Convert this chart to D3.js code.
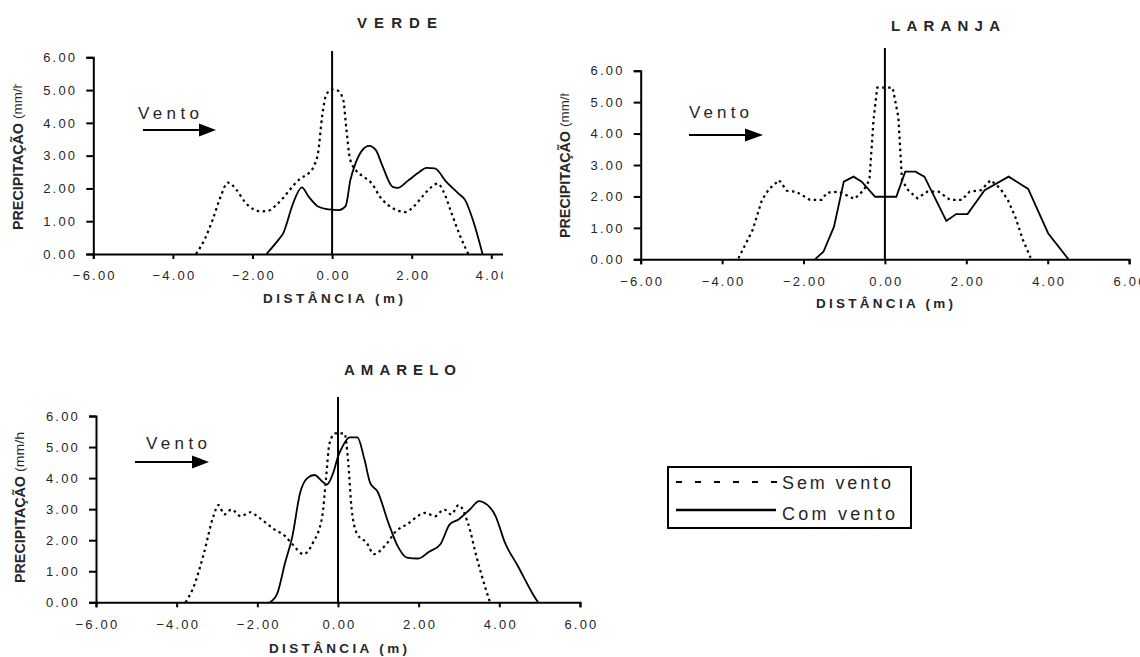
<!DOCTYPE html>
<html>
<head>
<meta charset="utf-8">
<title>Precipitação - sem vento / com vento</title>
<script src="https://cdn.jsdelivr.net/npm/d3@7"></script>
<style>
  body { margin: 0; background: #fff; }
  svg text { font-family: "Liberation Sans", Arial, sans-serif; fill: #262626; }
</style>
</head>
<body>
<svg id="chart" width="1140" height="657"></svg>
<script>
// tick values + labels
const xTicks = [-6, -4, -2, 0, 2, 4, 6];
const yTicks = [0, 1, 2, 3, 4, 5, 6];
const seriesNames = ["Sem vento", "Com vento"];
const xTitle = "DISTÂNCIA (m)";
const yTitle = "PRECIPITAÇÃO";
const yUnit = "(mm/h";

// VERDE  [distancia, precipitacao]
const verdeSem = [[-3.42,0],[-3.2,0.45],[-3.0,1.05],[-2.8,1.75],[-2.62,2.18],[-2.4,1.95],[-2.2,1.6],[-2.0,1.38],
  [-1.8,1.3],[-1.6,1.32],[-1.4,1.5],[-1.2,1.75],[-1.0,2.05],[-0.8,2.3],[-0.6,2.45],[-0.45,2.7],[-0.35,3.1],
  [-0.25,4.2],[-0.15,4.85],[0.0,5.02],[0.15,4.98],[0.28,4.7],[0.36,3.8],[0.45,2.9],[0.6,2.55],[0.8,2.35],
  [1.0,2.15],[1.2,1.75],[1.4,1.5],[1.6,1.35],[1.85,1.28],[2.05,1.45],[2.3,1.8],[2.5,2.05],[2.65,2.15],
  [2.8,1.9],[3.0,1.25],[3.2,0.6],[3.42,0]];
const verdeCom = [[-1.65,0],[-1.35,0.43],[-1.23,0.63],[-1.01,1.44],[-0.93,1.7],[-0.76,2.03],[-0.59,1.75],
  [-0.34,1.44],[-0.08,1.36],[0.17,1.34],[0.34,1.46],[0.46,2.26],[0.59,2.77],[0.76,3.17],[0.93,3.3],[1.1,3.17],
  [1.27,2.67],[1.52,2.05],[1.65,2.02],[1.9,2.23],[2.2,2.51],[2.37,2.63],[2.58,2.61],[2.87,2.2],[3.17,1.85],
  [3.34,1.65],[3.55,0.99],[3.78,0]];

// LARANJA
const laranjaSem = [[-3.6,0.03],[-3.25,0.93],[-3.02,1.89],[-2.85,2.23],[-2.6,2.52],[-2.41,2.18],[-2.18,2.15],
  [-1.84,1.89],[-1.56,1.89],[-1.42,2.12],[-1.13,2.15],[-0.75,1.92],[-0.52,2.2],[-0.38,2.52],[-0.28,4.43],
  [-0.19,5.46],[0.19,5.46],[0.33,4.53],[0.42,2.52],[0.57,2.2],[0.8,1.94],[1.04,2.15],[1.32,2.15],[1.6,1.89],
  [1.89,1.89],[2.08,2.15],[2.36,2.2],[2.6,2.52],[2.83,2.26],[3.02,1.89],[3.2,1.36],[3.39,0.62],[3.58,0.05]];
const laranjaCom = [[-1.72,0],[-1.51,0.24],[-1.25,1.04],[-1.01,2.47],[-0.77,2.63],[-0.57,2.47],[-0.24,1.99],
  [0.0,1.99],[0.28,1.99],[0.5,2.79],[0.75,2.79],[0.97,2.63],[1.51,1.22],[1.75,1.44],[2.03,1.44],[2.45,2.2],
  [3.04,2.63],[3.52,2.24],[4.01,0.83],[4.51,0]];

// AMARELO
const amareloSem = [[-3.78,0],[-3.6,0.43],[-3.32,1.6],[-3.09,2.77],[-2.96,3.13],[-2.82,2.83],[-2.64,2.99],
  [-2.41,2.77],[-2.18,2.9],[-1.95,2.72],[-1.58,2.35],[-1.31,2.13],[-1.13,1.87],[-0.85,1.55],[-0.62,1.92],
  [-0.39,2.77],[-0.3,3.94],[-0.21,5.12],[-0.07,5.44],[0.16,5.44],[0.25,4.58],[0.34,2.99],[0.48,2.19],
  [0.71,1.92],[0.89,1.55],[1.16,1.81],[1.44,2.29],[1.71,2.51],[2.17,2.88],[2.4,2.77],[2.63,2.99],[2.81,2.83],
  [2.99,3.13],[3.22,2.56],[3.45,1.39],[3.64,0.53],[3.77,0]];
const amareloCom = [[-1.69,0],[-1.51,0.27],[-1.31,1.28],[-1.13,2.13],[-0.94,3.52],[-0.76,4.0],[-0.58,4.1],
  [-0.39,3.89],[-0.28,3.79],[-0.12,4.16],[0.0,4.69],[0.11,5.01],[0.29,5.31],[0.48,5.31],[0.66,4.58],[0.8,3.84],
  [0.98,3.57],[1.25,2.56],[1.48,1.81],[1.71,1.44],[1.99,1.41],[2.26,1.63],[2.54,1.87],[2.77,2.51],[2.99,2.67],
  [3.27,2.99],[3.5,3.26],[3.59,3.23],[3.91,2.77],[4.14,1.92],[4.46,1.17],[4.83,0.27],[4.96,0]];

// layout of each panel (pixels)
const panels = [
  { title: "VERDE", sem: verdeSem, com: verdeCom, curve: d3.curveMonotoneX,
    left: 93.3, unit: 39.8, bottom: 254, top: 57.3, clipRight: 503, zeroTop: 51,
    titleBox: [357, 28, 80], vento: [138, 119, 61], arrow: [143, 199, 216, 130],
    ylab: [17.5, 230, 84], xlab: [263, 303, 140] },
  { title: "LARANJA", sem: laranjaSem, com: laranjaCom, curve: d3.curveLinear,
    left: 640.7, unit: 40.7, bottom: 259.3, top: 70.7, clipRight: 1140, zeroTop: 48,
    titleBox: [891, 31, 109], vento: [689, 118, 60], arrow: [689, 745, 763, 135],
    ylab: [565, 238, 93], xlab: [816, 308, 137] },
  { title: "AMARELO", sem: amareloSem, com: amareloCom, curve: d3.curveMonotoneX,
    left: 96, unit: 40.33, bottom: 602.3, top: 416, clipRight: 1140, zeroTop: 397,
    titleBox: [344, 375, 112], vento: [146, 449, 61], arrow: [135, 192, 209, 462],
    ylab: [19.5, 583, 0], xlab: [269, 653, 138] }
];

const svg = d3.select("#chart");
const defs = svg.append("defs");

function yTitleText(s, unitLen) {
  s.append("text").attr("x", 0).attr("dy", "0.36em")
    .attr("textLength", 107).attr("lengthAdjust", "spacingAndGlyphs")
    .style("font-size", "14px").style("font-weight", "bold").text(yTitle);
  s.append("text").attr("x", 111).attr("dy", "0.36em")
    .attr("textLength", unitLen).attr("lengthAdjust", "spacingAndGlyphs")
    .style("font-size", "12px").text(yUnit);
}

panels.forEach((p, i) => {
  const x = d3.scaleLinear().domain([-6, 6]).range([p.left, p.left + 12 * p.unit]);
  const y = d3.scaleLinear().domain([0, 6]).range([p.bottom, p.top]);

  defs.append("clipPath").attr("id", "clip" + i)
    .append("rect").attr("x", 0).attr("y", 0).attr("width", p.clipRight).attr("height", 657);

  const g = svg.append("g").attr("clip-path", `url(#clip${i})`);

  // title
  g.append("text")
    .attr("x", p.titleBox[0]).attr("y", p.titleBox[1])
    .attr("textLength", p.titleBox[2]).attr("lengthAdjust", "spacing")
    .style("font-size", "15px").style("font-weight", "bold")
    .text(p.title);

  // y axis
  const yAxis = g.append("g").attr("transform", `translate(${p.left},0)`)
    .call(d3.axisLeft(y).tickValues(yTicks).tickSize(7).tickPadding(9).tickFormat(d3.format(".2f")));
  // x axis
  const xAxis = g.append("g").attr("transform", `translate(0,${p.bottom})`)
    .call(d3.axisBottom(x).tickValues(xTicks).tickSize(5).tickPadding(12).tickFormat(d3.format(".2f")));

  [yAxis, xAxis].forEach(a => {
    a.selectAll("path, line").attr("stroke", "#000").attr("stroke-width", 2);
    a.selectAll("text")
      .attr("fill", "#333")
      .style("font-size", "13px").style("letter-spacing", "2.2px")
      .style("font-family", "'Liberation Sans', Arial, sans-serif");
  });
  xAxis.selectAll("text").attr("dx", "1px");

  // y title (rotated)
  const yl = g.append("g").attr("transform", `translate(${p.ylab[0]},${p.ylab[1]}) rotate(-90)`);
  if (p.ylab[2] > 0) {
    defs.append("clipPath").attr("id", "yclip" + i)
      .append("rect").attr("x", 0).attr("y", -20).attr("width", p.ylab[1] - p.ylab[2]).attr("height", 40);
    yl.append("g").attr("clip-path", `url(#yclip${i})`).call(yTitleText, 38);
  } else {
    yl.call(yTitleText, 40);
  }

  // x title
  g.append("text")
    .attr("x", p.xlab[0]).attr("y", p.xlab[1])
    .attr("textLength", p.xlab[2]).attr("lengthAdjust", "spacing")
    .style("font-size", "13.5px").style("font-weight", "bold")
    .text(xTitle);

  // vertical line at x = 0
  g.append("line")
    .attr("x1", x(0)).attr("x2", x(0))
    .attr("y1", p.zeroTop).attr("y2", p.bottom)
    .attr("stroke", "#000").attr("stroke-width", 2);

  // Vento + arrow
  g.append("text")
    .attr("x", p.vento[0]).attr("y", p.vento[1])
    .attr("textLength", p.vento[2]).attr("lengthAdjust", "spacing")
    .style("font-size", "17px").text("Vento");
  const [a0, ah, a1, ay] = p.arrow;
  g.append("line").attr("x1", a0).attr("x2", ah + 1).attr("y1", ay).attr("y2", ay)
    .attr("stroke", "#000").attr("stroke-width", 2);
  g.append("path").attr("d", `M${ah},${ay - 6.5}L${a1},${ay}L${ah},${ay + 6.5}Z`).attr("fill", "#000");

  // series
  const line = d3.line().x(d => x(d[0])).y(d => y(d[1])).curve(p.curve);
  g.append("path").datum(p.sem).attr("d", line)
    .attr("fill", "none").attr("stroke", "#000").attr("stroke-width", 2.2)
    .attr("stroke-dasharray", "2.5,3.5");
  g.append("path").datum(p.com).attr("d", line)
    .attr("fill", "none").attr("stroke", "#000").attr("stroke-width", 1.8);
});

// legend
const lg = svg.append("g");
lg.append("rect").attr("x", 668).attr("y", 467).attr("width", 243).attr("height", 61)
  .attr("fill", "#fff").attr("stroke", "#000").attr("stroke-width", 2);
lg.append("line").attr("x1", 676).attr("x2", 777).attr("y1", 482).attr("y2", 482)
  .attr("stroke", "#000").attr("stroke-width", 2).attr("stroke-dasharray", "6,13");
lg.append("line").attr("x1", 676).attr("x2", 776).attr("y1", 510).attr("y2", 510)
  .attr("stroke", "#000").attr("stroke-width", 2.5);
lg.selectAll("text.leg").data(seriesNames).join("text").attr("class", "leg")
  .attr("x", 782).attr("y", (d, i) => i === 0 ? 489 : 520)
  .attr("textLength", (d, i) => i === 0 ? 109 : 113).attr("lengthAdjust", "spacing")
  .style("font-size", "18px").text(d => d);
</script>
</body>
</html>
